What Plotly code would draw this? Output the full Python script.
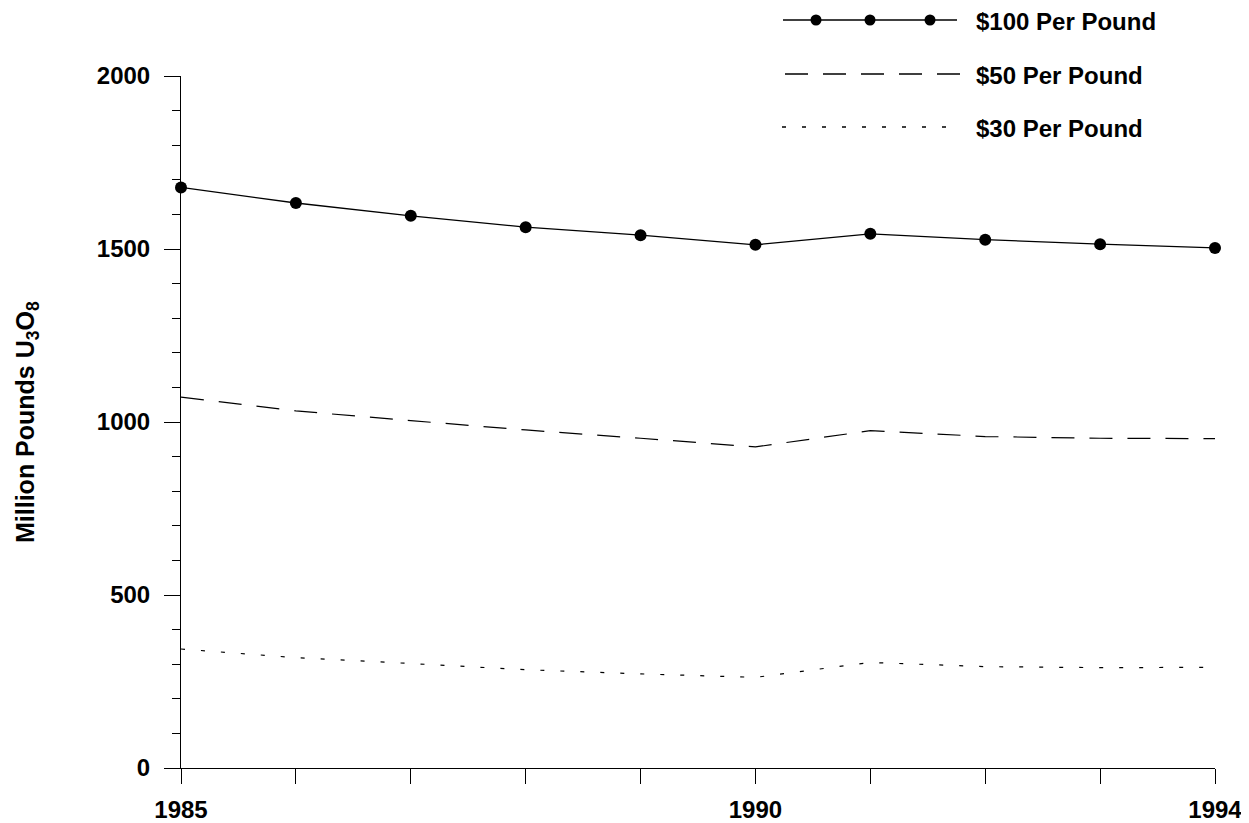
import plotly.graph_objects as go

years = [1985, 1986, 1987, 1988, 1989, 1990, 1991, 1992, 1993, 1994]
price_100 = [1678, 1633, 1596, 1563, 1540, 1512, 1544, 1527, 1514, 1503]
price_50 = [1072, 1032, 1004, 977, 953, 928, 975, 958, 953, 952]
price_30 = [344, 319, 302, 284, 272, 262, 305, 293, 290, 291]

series_names = ["$100 Per Pound", "$50 Per Pound", "$30 Per Pound"]
x_label_years = [1985, 1990, 1994]
y_tick_values = [0, 500, 1000, 1500, 2000]

FONT = "Liberation Sans, Arial, sans-serif"
FS = 24
BODY = 8  # default page margin of the html body

fig = go.Figure()
fig.add_trace(go.Scatter(x=years, y=price_100, mode="lines+markers",
                         line=dict(color="black", width=1.3),
                         marker=dict(color="black", size=12, symbol="circle"),
                         cliponaxis=False, name=series_names[0], showlegend=False))
fig.add_trace(go.Scatter(x=years, y=price_50, mode="lines",
                         line=dict(color="black", width=1.2, dash="23px,15px"),
                         name=series_names[1], showlegend=False))
fig.add_trace(go.Scatter(x=years, y=price_30, mode="lines",
                         line=dict(color="black", width=1.2, dash="4px,16px"),
                         name=series_names[2], showlegend=False))

# manual legend (paper coordinates, converted from page pixels)
W, H, L, B = 1034.0, 692.0, 181.0, 768.0
def px(x):
    return (x - L) / W
def py(y):
    return (B - y) / H

legend_rows = [
    dict(y=20, x0=783, x1=957, dash="solid", dots=[816, 870, 930]),
    dict(y=74, x0=785, x1=962, dash="23px,15px", dots=[]),
    dict(y=127, x0=782, x1=952, dash="4px,16px", dots=[]),
]
shapes = []
annotations = []
for name, row in zip(series_names, legend_rows):
    shapes.append(dict(type="line", xref="paper", yref="paper",
                       x0=px(row["x0"]), x1=px(row["x1"]), y0=py(row["y"]), y1=py(row["y"]),
                       line=dict(color="black", width=1.3, dash=row["dash"])))
    for d in row["dots"]:
        shapes.append(dict(type="circle", xref="paper", yref="paper",
                           xsizemode="pixel", ysizemode="pixel",
                           xanchor=px(d), yanchor=py(row["y"]),
                           x0=-5.5, x1=5.5, y0=-5.5, y1=5.5,
                           fillcolor="black", line=dict(color="black", width=0)))
    annotations.append(dict(text="<b>%s</b>" % name, xref="paper", yref="paper",
                            x=px(974), y=py(row["y"] + 1), xanchor="left", yanchor="middle",
                            showarrow=False, font=dict(family=FONT, size=FS, color="black")))

annotations.append(dict(text="<b>Million Pounds U<sub>3</sub>O<sub>8</sub></b>",
                        xref="paper", yref="paper", x=px(27), y=0.5,
                        xanchor="center", yanchor="middle", textangle=-90,
                        showarrow=False, font=dict(family=FONT, size=25, color="black")))

fig.update_layout(
    width=1249, height=823,
    margin=dict(l=181 - BODY, r=34 + BODY, t=76 - BODY, b=55 + BODY),
    plot_bgcolor="white", paper_bgcolor="white",
    font=dict(family=FONT, size=FS, color="black"),
    shapes=shapes, annotations=annotations,
    showlegend=False,
)
fig.update_xaxes(range=[1985, 1994], tickvals=x_label_years,
                 ticktext=["<b>%d</b>" % t for t in x_label_years],
                 ticks="outside", ticklen=15, tickwidth=1, tickcolor="black", automargin=False,
                 minor=dict(tick0=1985, dtick=1, ticks="outside", ticklen=15, tickwidth=1, tickcolor="black"),
                 showline=True, linecolor="black", linewidth=1, showgrid=False, zeroline=False,
                 ticklabelstandoff=5, tickfont=dict(family=FONT, size=FS, color="black"))
fig.update_yaxes(range=[0, 2000], tickvals=y_tick_values,
                 ticktext=["<b>%d</b>" % v for v in y_tick_values],
                 ticks="outside", ticklen=16, tickwidth=1, tickcolor="black", automargin=False,
                 minor=dict(dtick=100, tick0=0, ticks="outside", ticklen=8, tickwidth=1, tickcolor="black"),
                 showline=True, linecolor="black", linewidth=1, showgrid=False, zeroline=False,
                 ticklabelstandoff=9, tickfont=dict(family=FONT, size=FS, color="black"))

fig.write_html("out.html")
